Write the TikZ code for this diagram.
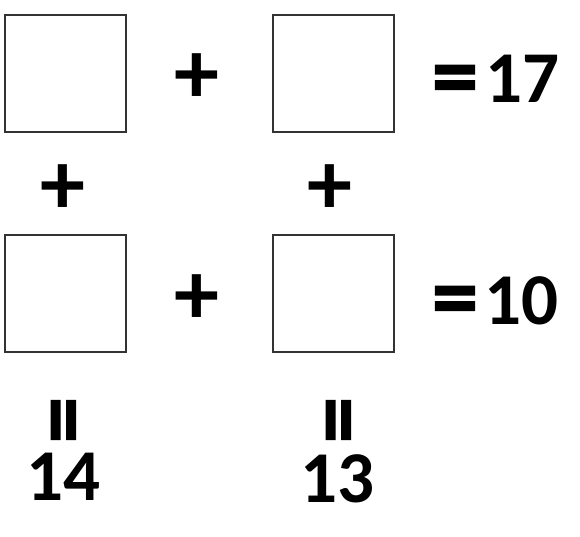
\documentclass[tikz,border=0pt]{standalone}
\usepackage{fontspec}
\setmainfont{Carlito}
\newfontfamily\heavyfont{Carlito Bold}[FakeBold=1.8]
\begin{document}
\begin{tikzpicture}[x=1pt,y=-1pt,cell/.style={draw=black!80,line width=2pt,minimum width=121pt,minimum height=117pt,inner sep=0pt},num/.style={font=\bfseries\fontsize{73}{73}\selectfont,inner sep=0pt,anchor=base},plus/.style={font=\bfseries\fontsize{90}{90}\selectfont,inner sep=0pt},eq/.style={font=\heavyfont\fontsize{92}{92}\selectfont,inner sep=0pt}]
\def\xa{65.5};
\def\xb{333};
\def\ya{73.5};
\def\yb{293};

\useasboundingbox (0,0) rectangle (580,537);

\node[cell] (A) at (\xa,\ya) {};
\node[cell] (B) at (\xb,\ya) {};
\node[cell] (C) at (\xa,\yb) {};
\node[cell] (D) at (\xb,\yb) {};

\node[plus] (AB) at (197,79) {+};
\node[plus] (CD) at (197,300) {+};
\node[plus] (AC) at (63,190) {+};
\node[plus] (BD) at (330,190) {+};

\node[eq] (Be) at (455,86) {=};
\node[num] (Bs) at (522.5,103) {17};
\node[eq] (De) at (455,307) {=};
\node[num] (Ds) at (521.5,324) {10};

\node[eq,rotate=90] (Ce) at (72,420) {=};
\node[num] (Cs) at (63.5,500) {14};
\node[eq,rotate=90] (De2) at (347,420) {=};
\node[num] (Ds2) at (337.5,502) {13};
\end{tikzpicture}
\end{document}
